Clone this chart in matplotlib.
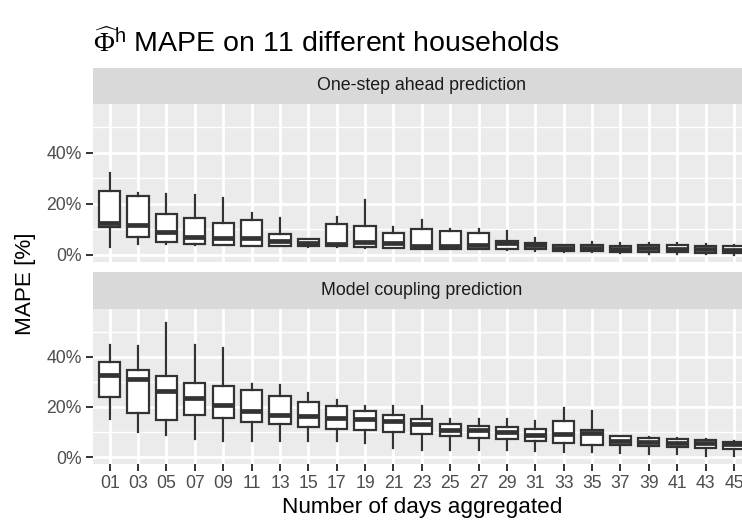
import numpy as np
import matplotlib
matplotlib.use("Agg")
import matplotlib.pyplot as plt
from matplotlib.ticker import FuncFormatter, MultipleLocator

plt.rcParams['font.family'] = ['Liberation Sans', 'DejaVu Sans']
plt.rcParams['mathtext.fontset'] = 'custom'
plt.rcParams['mathtext.rm'] = 'Liberation Serif'
plt.rcParams['mathtext.sf'] = 'Liberation Sans'
plt.rcParams['mathtext.it'] = 'Liberation Serif:italic'

# ---------- data (MAPE in %) ----------
days = ["01", "03", "05", "07", "09", "11", "13", "15", "17", "19", "21", "23",
        "25", "27", "29", "31", "33", "35", "37", "39", "41", "43", "45"]

# one-step ahead prediction
one_lo  = [3.2, 4.2, 4.2, 3.9, 3.7, 3.4, 3.3, 3.2, 2.9, 2.8, 2.6, 2.3,
           2.2, 2.2, 1.8, 1.5, 1.3, 1.3, 0.7, 0.5, 0.5, 0.4, 0.1]
one_q1  = [10.8, 6.9, 4.9, 4.2, 4.0, 3.6, 3.3, 3.6, 3.3, 3.2, 2.8, 2.5,
           2.4, 2.4, 2.4, 2.2, 1.6, 1.4, 1.2, 1.2, 1.2, 0.9, 0.8]
one_med = [12.4, 11.7, 9.1, 7.2, 6.6, 6.5, 5.5, 4.6, 4.2, 4.9, 4.7, 3.5,
           3.3, 3.8, 4.5, 3.9, 2.8, 2.8, 2.5, 2.6, 2.5, 2.2, 2.0]
one_q3  = [24.9, 22.9, 15.9, 14.5, 12.5, 13.8, 8.0, 6.3, 12.1, 11.3, 8.7, 10.0,
           9.5, 8.7, 5.5, 4.7, 3.8, 3.8, 3.6, 3.8, 3.7, 3.4, 3.3]
one_hi  = [31.9, 24.4, 23.7, 23.3, 22.3, 16.3, 14.5, 6.3, 14.8, 21.5, 11.1, 13.8,
           10.2, 10.2, 9.2, 6.5, 3.8, 4.9, 4.6, 4.6, 4.6, 4.1, 3.8]

# model coupling prediction
mc_lo  = [15.3, 10.0, 8.9, 7.3, 6.3, 6.3, 6.3, 6.3, 6.3, 5.5, 3.5, 2.9,
          2.9, 2.9, 2.9, 2.4, 2.0, 1.9, 1.6, 1.2, 1.2, 0.4, 0.4]
mc_q1  = [24.0, 17.6, 14.9, 16.9, 15.7, 13.9, 13.3, 12.1, 11.3, 10.7, 9.9, 9.1,
          8.4, 7.7, 7.3, 6.3, 5.5, 4.9, 4.7, 4.4, 4.1, 3.7, 3.3]
mc_med = [32.7, 31.1, 26.4, 23.7, 20.7, 18.5, 16.7, 16.4, 15.6, 15.2, 14.4, 13.3,
          10.9, 10.7, 9.9, 8.7, 9.1, 9.7, 6.5, 6.1, 5.7, 5.5, 5.0]
mc_q3  = [38.0, 34.8, 32.1, 29.6, 28.3, 26.8, 24.3, 22.1, 20.5, 18.4, 16.7, 15.1,
          13.3, 12.5, 12.1, 11.1, 14.4, 10.9, 8.4, 7.7, 7.1, 6.7, 6.1]
mc_hi  = [44.7, 44.4, 53.3, 44.6, 43.5, 29.3, 28.8, 25.7, 22.8, 20.4, 20.4, 20.3,
          15.3, 15.1, 15.0, 14.4, 19.5, 18.4, 8.4, 7.9, 7.5, 7.1, 6.5]

panels = [
    ("One-step ahead prediction", one_lo, one_q1, one_med, one_q3, one_hi),
    ("Model coupling prediction", mc_lo, mc_q1, mc_med, mc_q3, mc_hi),
]

# ---------- layout (pixels) ----------
W, H = 742, 520
fig = plt.figure(figsize=(W / 100, H / 100), dpi=100)

def px_rect(x0, y0, x1, y1):
    return [x0 / W, 1 - y1 / H, (x1 - x0) / W, (y1 - y0) / H]

PX_L, PX_R = 92.7, 751.0
strips = [(67.7, 104.3), (271.7, 309.0)]
bodies = [(104.3, 262.3), (309.0, 464.3)]

GREY_BG = "#EBEBEB"
STRIP_BG = "#D9D9D9"
INK = "#333333"

pct = FuncFormatter(lambda v, _: f"{v:.0f}%")

for k, (label, lo, q1, med, q3, hi) in enumerate(panels):
    ax = fig.add_axes(px_rect(PX_L, bodies[k][0], PX_R, bodies[k][1]))
    ax.set_facecolor(GREY_BG)
    for s in ax.spines.values():
        s.set_visible(False)

    stats = [dict(whislo=lo[i], q1=q1[i], med=med[i], q3=q3[i], whishi=hi[i], fliers=[])
             for i in range(len(days))]
    ax.bxp(stats, positions=np.arange(len(days)), widths=0.75, patch_artist=True,
           showcaps=False, showfliers=False,
           boxprops=dict(facecolor="white", edgecolor=INK, linewidth=1.6),
           whiskerprops=dict(color=INK, linewidth=1.6),
           medianprops=dict(color=INK, linewidth=3.4, solid_capstyle="butt"))

    ax.set_xlim(-0.6, len(days) - 1 + 0.6)
    ax.set_ylim(-2.9, 59.0)
    ax.yaxis.set_major_locator(MultipleLocator(20))
    ax.yaxis.set_minor_locator(MultipleLocator(10))
    ax.yaxis.set_major_formatter(pct)
    ax.set_xticks(np.arange(len(days)))
    ax.grid(which="major", color="white", linewidth=2.0)
    ax.grid(which="minor", axis="y", color="white", linewidth=1.0)
    ax.set_axisbelow(True)
    ax.tick_params(which="major", length=5, width=1.4, color=INK,
                   labelcolor="#4D4D4D", labelsize=12.7, pad=3)
    ax.tick_params(which="minor", length=0)
    if k == 0:
        ax.tick_params(axis="x", length=0, labelbottom=False)
    else:
        ax.set_xticklabels(days)

    sax = fig.add_axes(px_rect(PX_L, strips[k][0], PX_R, strips[k][1]))
    sax.set_facecolor(STRIP_BG)
    sax.set_xticks([]); sax.set_yticks([])
    for s in sax.spines.values():
        s.set_visible(False)
    sax.text(0.5, 0.5, label, ha="center", va="center", fontsize=12.8,
             color="#1A1A1A", transform=sax.transAxes)

fig.text(92.7 / W, 1 - 51.7 / H,
         r"$\widehat{\Phi}^{\mathsf{h}}$ MAPE on 11 different households",
         fontsize=20.5, ha="left", va="baseline", color="black")
fig.text(26 / W, 1 - 284 / H, "MAPE [%]", rotation=90, fontsize=16.2,
         ha="center", va="center")
fig.text(421.9 / W, 1 - 507 / H, "Number of days aggregated", fontsize=16.2,
         ha="center", va="center")

fig.savefig("out.png", dpi=100)
